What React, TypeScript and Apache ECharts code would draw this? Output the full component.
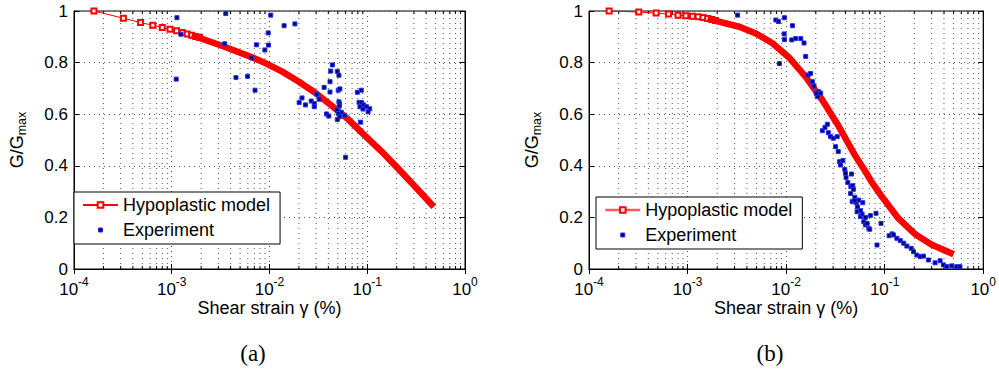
import { useEffect, useRef } from 'react';
import * as echarts from 'echarts';

// ---------- data ----------
// (a) Hypoplastic model: individually visible markers (x in %, G/Gmax)
const modelAMarkers: [number, number][] = [
  [1.6e-4, 1.0], [3.2e-4, 0.972], [4.8e-4, 0.955], [6.4e-4, 0.945], [8.0e-4, 0.936],
  [9.6e-4, 0.929], [1.12e-3, 0.923], [1.28e-3, 0.917], [1.44e-3, 0.911], [1.6e-3, 0.906],
  [1.76e-3, 0.901], [1.92e-3, 0.897],
];
// (a) Hypoplastic model: dense part where the markers merge into a band
const modelABand: [number, number][] = [
  [1.6e-3, 0.906], [3.1e-3, 0.868], [4.23e-3, 0.849], [6.7e-3, 0.82], [9.18e-3, 0.797],
  [1.35e-2, 0.765], [2.0e-2, 0.726], [2.94e-2, 0.683], [4.33e-2, 0.633], [6.38e-2, 0.58],
  [9.4e-2, 0.518], [0.138, 0.458], [0.204, 0.392], [0.301, 0.324], [0.479, 0.241],
];
// (a) Experiment
const expA: [number, number][] = [
  [1.13e-3, 0.974], [3.57e-3, 0.99], [1.03e-2, 0.984], [1.24e-3, 0.91], [3.48e-3, 0.873],
  [9.7e-3, 0.915], [7.35e-3, 0.869], [9.77e-3, 0.868], [8.97e-3, 0.849], [6.58e-3, 0.818],
  [1.11e-3, 0.736], [4.54e-3, 0.742], [5.96e-3, 0.747], [7.11e-3, 0.693], [1.41e-2, 0.943],
  [1.82e-2, 0.95], [4.4e-2, 0.791], [4.23e-2, 0.767], [4.94e-2, 0.766], [5.13e-2, 0.751],
  [4.16e-2, 0.726], [3.62e-2, 0.704], [4.16e-2, 0.686], [5.05e-2, 0.693], [5.25e-2, 0.698],
  [7.93e-2, 0.685], [8.69e-2, 0.693], [3.05e-2, 0.677], [2.15e-2, 0.663], [2.01e-2, 0.645],
  [2.33e-2, 0.636], [2.67e-2, 0.651], [2.87e-2, 0.642], [2.87e-2, 0.629], [3.22e-2, 0.658],
  [5.13e-2, 0.648], [5.21e-2, 0.64], [5.18e-2, 0.632], [4.9e-2, 0.616], [5.46e-2, 0.606],
  [5.05e-2, 0.603], [5.86e-2, 0.596], [5.21e-2, 0.59], [4.94e-2, 0.579], [3.83e-2, 0.601],
  [4.04e-2, 0.593], [8.24e-2, 0.646], [8.77e-2, 0.645], [8.43e-2, 0.629], [9.18e-2, 0.636],
  [9.84e-2, 0.629], [0.106, 0.621], [9.04e-2, 0.62], [0.102, 0.609], [8.55e-2, 0.569],
  [6.0e-2, 0.433],
];
// (b) Hypoplastic model markers
const modelBMarkers: [number, number][] = [
  [1.6e-4, 1.0], [3.2e-4, 0.996], [4.8e-4, 0.992], [6.4e-4, 0.988], [8.0e-4, 0.984],
  [9.6e-4, 0.982], [1.12e-3, 0.98], [1.28e-3, 0.978], [1.44e-3, 0.975], [1.6e-3, 0.971],
  [1.76e-3, 0.967], [1.92e-3, 0.963],
];
// (b) Hypoplastic model band
const modelBBand: [number, number][] = [
  [1.6e-3, 0.971], [1.8e-3, 0.965], [3.35e-3, 0.939], [4.94e-3, 0.913], [7.28e-3, 0.875],
  [1.07e-2, 0.82], [1.58e-2, 0.745], [2.33e-2, 0.655], [3.43e-2, 0.552], [5.06e-2, 0.437],
  [6.38e-2, 0.378], [7.45e-2, 0.335], [9.4e-2, 0.28], [0.138, 0.196], [0.168, 0.165],
  [0.204, 0.135], [0.301, 0.094], [0.501, 0.057],
];
// (b) Experiment
const expB: [number, number][] = [
  [3.22e-3, 0.984], [7.87e-3, 0.965], [8.36e-3, 0.959], [9.62e-3, 0.974], [9.55e-3, 0.911],
  [9.62e-3, 0.889], [8.55e-3, 0.796], [1.16e-2, 0.943], [1.14e-2, 0.888], [1.25e-2, 0.893],
  [1.41e-2, 0.893], [1.52e-2, 0.876], [1.58e-2, 0.824], [1.67e-2, 0.752], [1.77e-2, 0.758],
  [1.85e-2, 0.726], [1.92e-2, 0.709], [2.15e-2, 0.687], [2.24e-2, 0.681], [2.07e-2, 0.668],
  [2.02e-2, 0.681], [2.33e-2, 0.536], [2.48e-2, 0.549], [2.62e-2, 0.561], [2.68e-2, 0.528],
  [2.82e-2, 0.513], [3.01e-2, 0.507], [3.3e-2, 0.513], [3.18e-2, 0.474], [3.38e-2, 0.455],
  [3.49e-2, 0.416], [3.77e-2, 0.42], [3.56e-2, 0.403], [3.94e-2, 0.386], [4.01e-2, 0.371],
  [4.61e-2, 0.368], [4.06e-2, 0.355], [4.23e-2, 0.335], [4.54e-2, 0.319], [4.75e-2, 0.323],
  [4.82e-2, 0.309], [4.51e-2, 0.293], [4.98e-2, 0.278], [5.14e-2, 0.257], [5.3e-2, 0.241],
  [5.46e-2, 0.267], [4.68e-2, 0.261], [5.25e-2, 0.222], [6.0e-2, 0.257], [5.68e-2, 0.203],
  [6.14e-2, 0.183], [6.38e-2, 0.171], [6.89e-2, 0.158], [7.05e-2, 0.154], [7.16e-2, 0.207],
  [8.17e-2, 0.216], [9.18e-2, 0.177], [8.36e-2, 0.093], [0.111, 0.129], [0.119, 0.136],
  [0.123, 0.132], [0.133, 0.119], [0.144, 0.11], [0.156, 0.1], [0.168, 0.089],
  [0.186, 0.08], [0.196, 0.067], [0.212, 0.054], [0.229, 0.048], [0.248, 0.05],
  [0.278, 0.035], [0.325, 0.024], [0.365, 0.032], [0.394, 0.016], [0.427, 0.009],
  [0.479, 0.012], [0.538, 0.009], [0.581, 0.009], [6.38e-2, 0.2], [6.64e-2, 0.177],
  [5.9e-2, 0.213], [5.68e-2, 0.226], [4.98e-2, 0.265],
];
// minor tick positions of the log axis
const minorTickValues: number[] = [
  2e-4, 3e-4, 4e-4, 5e-4, 6e-4, 7e-4, 8e-4, 9e-4,
  2e-3, 3e-3, 4e-3, 5e-3, 6e-3, 7e-3, 8e-3, 9e-3,
  2e-2, 3e-2, 4e-2, 5e-2, 6e-2, 7e-2, 8e-2, 9e-2,
  0.2, 0.3, 0.4, 0.5, 0.6, 0.7, 0.8, 0.9,
];
const legendNames = ['Hypoplastic model', 'Experiment'];
const xTitle = 'Shear strain γ (%)';
const captions = ['(a)', '(b)'];

const FONT = '"Liberation Sans", Arial, Helvetica, sans-serif';
const RED = '#ff0000';
const EXP_ICON = 'path://M0,0h0.01v0.01h-0.01zM1.5,1.5h4v4h-4zM6.99,6.99h0.01v0.01h-0.01z';

function buildOption() {
  const gridDefs = [
    { left: 69, top: 11, width: 396, height: 258 },
    { left: 589, top: 11, width: 396, height: 258 },
  ];
  const xAxis: any[] = [];
  const yAxis: any[] = [];
  const series: any[] = [];
  const legend: any[] = [];
  const panels = [
    { markers: modelAMarkers, band: modelABand, exp: expA },
    { markers: modelBMarkers, band: modelBBand, exp: expB },
  ];
  const legendPos = [
    { left: 74, top: 192 },
    { left: 596, top: 197 },
  ];

  gridDefs.forEach((_, i) => {
    xAxis.push({
      type: 'log', logBase: 10, gridIndex: i, min: 1e-4, max: 1, position: 'bottom',
      axisLine: { show: true, lineStyle: { color: '#000', width: 1 } },
      axisTick: { show: true, inside: true, length: 5, lineStyle: { color: '#000' } },
      axisLabel: {
        margin: 7,
        color: '#000',
        formatter: (v: number) => `{b|10}{e|${Math.round(Math.log10(v))}}`,
        rich: {
          b: { fontSize: 17, fontFamily: FONT, color: '#000', lineHeight: 22, verticalAlign: 'bottom' },
          e: { fontSize: 12, fontFamily: FONT, color: '#000', lineHeight: 14, verticalAlign: 'top' },
        },
      },
      splitLine: { show: true, lineStyle: { color: '#555', width: 1, type: [1, 4] } },
      name: xTitle, nameLocation: 'middle', nameGap: 30, nameMoveOverlap: false,
      nameTextStyle: { fontSize: 18, fontFamily: FONT, color: '#000' },
    });
    xAxis.push({
      type: 'log', logBase: 10, gridIndex: i, min: 1e-4, max: 1, position: 'top',
      axisLine: { show: true, lineStyle: { color: '#000', width: 1 } },
      axisTick: { show: true, inside: true, length: 5, lineStyle: { color: '#000' } },
      axisLabel: { show: false },
      splitLine: { show: false },
    });
    yAxis.push({
      type: 'value', gridIndex: i, min: 0, max: 1, interval: 0.2, position: 'left',
      axisLine: { show: true, lineStyle: { color: '#000', width: 1 } },
      axisTick: { show: true, inside: true, length: 5, lineStyle: { color: '#000' } },
      axisLabel: {
        margin: 6, color: '#000', fontSize: 17, fontFamily: FONT,
        formatter: (v: number) => String(Math.round(v * 10) / 10),
      },
      splitLine: { show: true, lineStyle: { color: '#555', width: 1, type: [1, 4] } },
      name: '{g|G/G}{s|max}', nameLocation: 'middle', nameRotate: 90, nameGap: 46,
      nameMoveOverlap: false,
      nameTextStyle: {
        rich: {
          g: { fontSize: 18, fontFamily: FONT, color: '#000', lineHeight: 20, verticalAlign: 'top' },
          s: { fontSize: 12.5, fontFamily: FONT, color: '#000', lineHeight: 14, verticalAlign: 'bottom', padding: [14, 0, 0, 0] },
        },
      },
    });
    yAxis.push({
      type: 'value', gridIndex: i, min: 0, max: 1, interval: 0.2, position: 'right',
      axisLine: { show: true, lineStyle: { color: '#000', width: 1 } },
      axisTick: { show: true, inside: true, length: 5, lineStyle: { color: '#000' } },
      axisLabel: { show: false },
      splitLine: { show: false },
    });

    const xi = 2 * i;
    const yi = 2 * i;
    const p = panels[i];
    series.push({
      type: 'custom', xAxisIndex: xi, yAxisIndex: yi, silent: true, z: 1,
      data: minorTickValues.map((v) => [v, 0]),
      encode: { x: 0, y: 1 },
      renderItem: (_params: any, api: any) => {
        const v = api.value(0);
        const b = api.coord([v, 0]);
        const t = api.coord([v, 1]);
        return {
          type: 'group',
          children: [
            { type: 'line', shape: { x1: b[0], y1: b[1], x2: t[0], y2: t[1] }, style: { stroke: '#555', lineWidth: 1, lineDash: [1, 4] } },
            { type: 'line', shape: { x1: b[0], y1: b[1], x2: b[0], y2: b[1] - 3 }, style: { stroke: '#000', lineWidth: 1 } },
            { type: 'line', shape: { x1: t[0], y1: t[1], x2: t[0], y2: t[1] + 3 }, style: { stroke: '#000', lineWidth: 1 } },
          ],
        };
      },
    });
    series.push({
      type: 'line', name: legendNames[0], xAxisIndex: xi, yAxisIndex: yi, z: 3,
      data: p.markers,
      symbol: 'emptyRect', symbolSize: 5, showSymbol: true, showAllSymbol: true,
      itemStyle: { color: RED, borderColor: RED, borderWidth: 1 },
      lineStyle: { color: RED, width: 1 },
    });
    series.push({
      type: 'line', name: legendNames[0], xAxisIndex: xi, yAxisIndex: yi, z: 4,
      data: p.band, symbol: 'none', smooth: false,
      itemStyle: { color: RED },
      lineStyle: { color: RED, width: 6.5, join: 'round' },
    });
    series.push({
      type: 'scatter', name: legendNames[1], xAxisIndex: xi, yAxisIndex: yi, z: 5,
      data: p.exp, symbol: 'rect', symbolSize: 4,
      itemStyle: { color: '#00006e', borderColor: '#2030ff', borderWidth: 1, opacity: 1 },
    });

    const expItem = {
      name: legendNames[1], icon: EXP_ICON,
      itemStyle: { color: '#00006e', borderColor: '#2030ff', borderWidth: 1 },
    };
    legend.push({
      orient: 'vertical', left: legendPos[i].left, top: legendPos[i].top,
      data: i === 0
        ? [legendNames[0], expItem]
        : [{ name: legendNames[0], lineStyle: { width: 2.5, color: '#ff5a5a' } }, expItem],
      itemWidth: 35, itemHeight: 7, itemGap: 5,
      symbolKeepAspect: true,
      padding: [3, 10, 4, 8],
      borderColor: '#000', borderWidth: 1, backgroundColor: '#fff',
      selectedMode: false,
      textStyle: { fontSize: 18, fontFamily: FONT, color: '#000', lineHeight: 20 },
      z: 10,
    });
  });

  return {
    animation: false,
    backgroundColor: '#fff',
    grid: gridDefs.map((g) => ({ ...g, show: true, borderColor: '#000', borderWidth: 1, backgroundColor: 'transparent' })),
    xAxis,
    yAxis,
    legend,
    series,
    graphic: [
      {
        type: 'text', x: 253, y: 353,
        style: { text: captions[0], fontSize: 23, fontFamily: '"Liberation Serif", "DejaVu Serif", serif', fill: '#000', align: 'center', verticalAlign: 'middle' },
      },
      {
        type: 'text', x: 770, y: 353,
        style: { text: captions[1], fontSize: 23, fontFamily: '"Liberation Serif", "DejaVu Serif", serif', fill: '#000', align: 'center', verticalAlign: 'middle' },
      },
    ],
  };
}

export default function App() {
  const ref = useRef<HTMLDivElement>(null);
  useEffect(() => {
    if (!ref.current) return;
    const chart = echarts.init(ref.current, undefined, { renderer: 'svg' });
    chart.setOption(buildOption() as any);
    return () => chart.dispose();
  }, []);
  return (
    <div
      ref={ref}
      style={{ position: 'absolute', left: 0, top: 0, width: 999, height: 371, background: '#fff' }}
    />
  );
}
